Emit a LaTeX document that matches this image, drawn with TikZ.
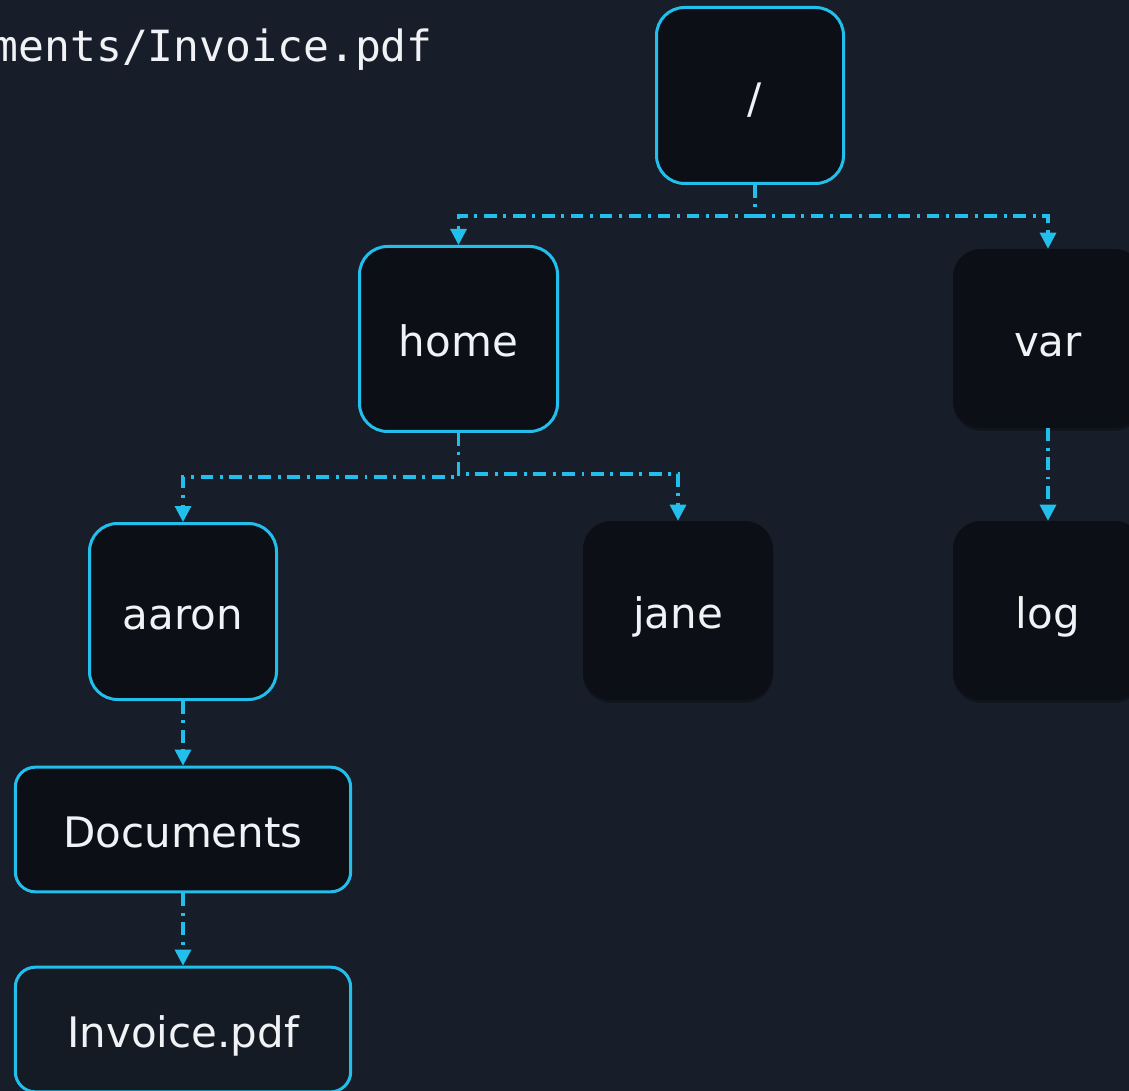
\documentclass[tikz,border=0pt]{standalone}
\usepackage{fontspec}
\setmainfont{DejaVu Sans}
\newfontfamily\pathmono{DejaVu Sans Mono}
\usetikzlibrary{arrows.meta,shadows}
\definecolor{bgc}{RGB}{24,30,41}
\definecolor{nodefill}{RGB}{12,15,21}
\definecolor{lastfill}{RGB}{21,27,37}
\definecolor{cyanc}{RGB}{34,190,236}
\definecolor{txtc}{RGB}{240,242,245}
\begin{document}
\begin{tikzpicture}[x=0.75pt,y=-0.75pt,
  fsnode/.style={rounded corners=21pt, fill=nodefill, text=txtc,
    font=\fontsize{31.5pt}{38pt}\selectfont, text height=27pt, text depth=0pt,
    inner sep=0pt, drop shadow={fill=black,opacity=0.3,shadow xshift=0pt,shadow yshift=-2pt}},
  sq/.style={fsnode, minimum width=142.5pt, minimum height=134.25pt},
  wide/.style={fsnode, rounded corners=15pt, minimum width=251.5pt, minimum height=93.5pt},
  hl/.style={draw=cyanc, line width=2.25pt},
  edge/.style={draw=cyanc, line width=2.3pt, dash pattern=on 9.5pt off 5pt on 2.2pt off 5pt,
    -{Triangle[length=12pt,width=12pt]}},
  pathtext/.style={anchor=base east, inner sep=0pt, text=txtc,
    font=\pathmono\fontsize{32.25pt}{38pt}\selectfont},
]
\useasboundingbox (0,0) rectangle (1129,1091);
\fill[bgc] (0,0) rectangle (1129,1091);

\node[pathtext] (path) at (433,62) {ments/Invoice.pdf};

\node[sq,hl,minimum width=140.25pt,minimum height=132pt] (root) at (750,95.5) {\hspace*{7.5pt}/};
\node[sq,hl,minimum width=148.5pt,minimum height=138.75pt] (home) at (458.5,339) {home};
\node[sq] (var) at (1048,338.5) {var};
\node[sq,hl,minimum width=140.25pt,minimum height=132pt] (aaron) at (183,611.5) {aaron};
\node[sq] (jane) at (678,610.5) {jane};
\node[sq] (log) at (1048,610.5) {log};
\node[wide,hl] (docs) at (183,829.5) {Documents};
\node[wide,hl,fill=lastfill] (inv) at (183,1029.5) {Invoice.pdf};

\draw[edge] ([xshift=3.75pt]root.south) -- ++(0,31) -| (home.north);
\draw[edge] ([xshift=3.75pt]root.south) -- ++(0,31) -| (var.north);
\draw[edge] (home.south) -- ++(0,44) -| (aaron.north);
\draw[edge] (home.south) -- ++(0,41) -| (jane.north);
\draw[edge] (var.south) -- (log.north);
\draw[edge] (aaron.south) -- (docs.north);
\draw[edge] (docs.south) -- (inv.north);
\end{tikzpicture}
\end{document}
